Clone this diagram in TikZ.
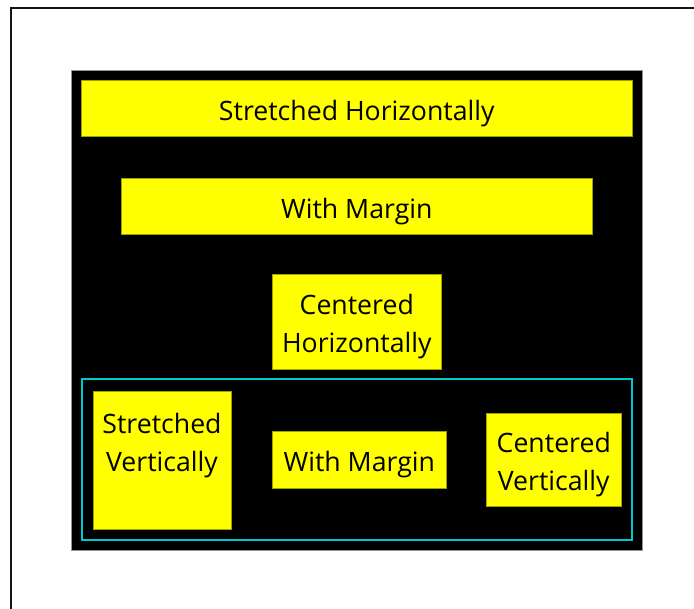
\documentclass[tikz,border=0pt]{standalone}
\usepackage{fontspec}
\setmainfont{Open Sans}
\tikzset{every picture/.style={line width=0.75pt}}
\tikzset{
  boxfont/.style={font=\fontsize{20pt}{28.5pt}\selectfont},
  yellowbox/.style={fill={rgb, 255:red, 255; green, 255; blue, 0 }, draw={rgb, 255:red, 160; green, 160; blue, 0 }, line width=0.4pt, inner sep=0pt, anchor=north west},
  boxtext/.style={boxfont, align=center, inner sep=0pt},
}

\begin{document}
\begin{tikzpicture}[x=0.75pt,y=0.75pt,yscale=-1,xscale=1]
	\useasboundingbox (0,0) rectangle (694,609);
	
	%Straight Lines [id:window border]
	\draw [color={rgb, 255:red, 20; green, 20; blue, 20 }, line width=1.5] (10.5,609) -- (10.5,8.5) -- (694,8.5) ;
	%Shape: Rectangle [id:black panel]
	\draw [fill=black, draw={rgb, 255:red, 150; green, 150; blue, 150 }, line width=0.5] (71,70) -- (642,70) -- (642,550) -- (71,550) -- cycle ;
	
	%Shape: Rectangle [id:stretched horizontally]
	\node (stretchh) [yellowbox, minimum width=551*0.75pt, minimum height=56*0.75pt] at (81,80) {};
	% Text Node
	\node (stretchhtext) [boxtext] at ([yshift=3.75pt]stretchh.center) {Stretched Horizontally};
	%Shape: Rectangle [id:with margin top]
	\node (marginh) [yellowbox, minimum width=471*0.75pt, minimum height=56*0.75pt] at (121,178) {};
	% Text Node
	\node (marginhtext) [boxtext] at ([yshift=3.75pt]marginh.center) {With Margin};
	%Shape: Rectangle [id:centered horizontally]
	\node (centerh) [yellowbox, minimum width=169*0.75pt, minimum height=95*0.75pt] at (272,274) {};
	% Text Node
	\node (centerhtext) [boxtext] at ([yshift=3.75pt]centerh.center) {Centered\\Horizontally};
	
	%Shape: Rectangle [id:cyan panel]
	\draw [color={rgb, 255:red, 0; green, 200; blue, 210 }, line width=1.5] (82,379.5) -- (632,379.5) -- (632,540) -- (82,540) -- cycle ;
	
	%Shape: Rectangle [id:stretched vertically]
	\node (stretchv) [yellowbox, minimum width=138*0.75pt, minimum height=138*0.75pt] at (93,391) {};
	% Text Node
	\node (stretchvtext) [boxtext] at (162,446) {Stretched\\Vertically};
	%Shape: Rectangle [id:with margin bottom]
	\node (marginv) [yellowbox, minimum width=174*0.75pt, minimum height=57*0.75pt] at (272,431) {};
	% Text Node
	\node (marginvtext) [boxtext] at ([yshift=3.75pt]marginv.center) {With Margin};
	%Shape: Rectangle [id:centered vertically]
	\node (centerv) [yellowbox, minimum width=135*0.75pt, minimum height=93*0.75pt] at (486,413) {};
	% Text Node
	\node (centervtext) [boxtext] at ([yshift=3.75pt]centerv.center) {Centered\\Vertically};
	
\end{tikzpicture}
\end{document}
